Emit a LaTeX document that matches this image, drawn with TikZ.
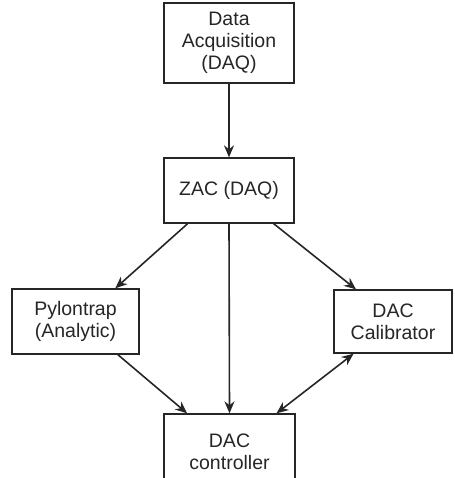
\documentclass[tikz,border=0pt]{standalone}
\usepackage{fontspec}
\setmainfont{Liberation Sans}
\usetikzlibrary{arrows.meta,calc}
\begin{document}
\begin{tikzpicture}[x=1pt,y=1pt,
  box/.style={draw=black!85,line width=1.3pt,fill=white,inner sep=0pt,align=center,
    font=\fontsize{19.5}{22}\selectfont,text=black!85},
  conn/.style={draw=black!85,line width=1.6pt,-{Stealth[length=12pt,width=10pt]}},
  conn2/.style={draw=black!85,line width=1.6pt,{Stealth[length=12pt,width=10pt]}-{Stealth[length=12pt,width=10pt]}}]
\useasboundingbox (0,0) rectangle (454,-478);
\clip (0,0) rectangle (454,-478);
\node[box,minimum width=130pt,minimum height=80pt] (daq) at (229,-43) {Data\\Acquisition\\(DAQ)};
\node[box,minimum width=130pt,minimum height=65pt] (zac) at (229,-190.5) {ZAC (DAQ)};
\node[box,minimum width=127pt,minimum height=65pt] (pyl) at (75.5,-321.5) {Pylontrap\\(Analytic)};
\node[box,minimum width=118pt,minimum height=63pt] (cal) at (393,-321.5) {DAC\\Calibrator};
\node[box,minimum width=131pt,minimum height=76pt] (ctl) at (229.5,-452) {DAC\\controller};
\draw[conn] (daq.south) -- (zac.north);
\draw[conn] ($(zac.south west)!0.185!(zac.south east)$) -- ($(pyl.north west)!0.81!(pyl.north east)$);
\draw[conn] ($(zac.south west)!0.84!(zac.south east)$) -- ($(cal.north west)!0.19!(cal.north east)$);
\draw[conn] (zac.south) -- (ctl.north);
\draw[conn] ($(pyl.south west)!0.83!(pyl.south east)$) -- ($(ctl.north west)!0.18!(ctl.north east)$);
\draw[conn2] ($(cal.south west)!0.17!(cal.south east)$) -- ($(ctl.north west)!0.855!(ctl.north east)$);
\end{tikzpicture}
\end{document}
